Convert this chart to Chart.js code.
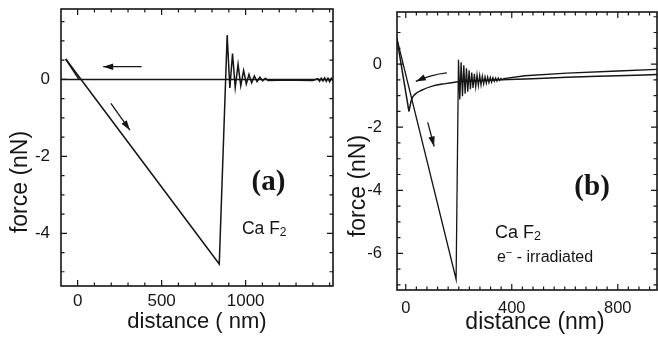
<!DOCTYPE html>
<html>
<head>
<meta charset="utf-8">
<script src="https://cdn.jsdelivr.net/npm/chart.js@4.4.1/dist/chart.umd.min.js"></script>
<style>
  html, body { margin: 0; padding: 0; background: #fff; }
  #wrap { position: relative; width: 658px; height: 339px; overflow: hidden; }
  canvas { position: absolute; top: 0; }
  #cv_a { left: 0; }
  #cv_b { left: 340px; }
</style>
</head>
<body>
<div id="wrap">
  <canvas id="cv_a" width="340" height="339"></canvas>
  <canvas id="cv_b" width="318" height="339"></canvas>
</div>
<script>
// ---- panel (a): CaF2 ----
const A_FLAT_X    = [1520, -99];
const A_FLAT_Y    = [0, 0];
const A_CONTACT_X = [8, -71];
const A_CONTACT_Y = [0, 0.53];
const A_RETRACT_X = [-71, 843, 890, 906, 922, 938, 955, 971, 988, 1004, 1020, 1036, 1052, 1068, 1085, 1101, 1117, 1133,
                     1200, 1300, 1400, 1430, 1440, 1450, 1460, 1470, 1480, 1490, 1500, 1510, 1520];
const A_RETRACT_Y = [0.53, -4.80, 1.15, -0.22, 0.67, -0.21, 0.39, -0.17, 0.23, -0.12, 0.13, -0.09, 0.09, -0.06, 0.06, -0.04, 0.03, -0.03,
                     -0.02, -0.02, -0.03, 0.02, -0.05, 0.03, -0.04, 0.04, -0.05, 0.03, -0.06, 0.03, -0.04];
const A_X_LABELS = [0, 500, 1000];
const A_Y_LABELS = [0, -2, -4];

// ---- panel (b): CaF2, e- irradiated ----
const B_APPROACH_X = [948, 800, 608, 450, 356, 275, 200, 150, 100, 60, 35, 22, 12];
const B_APPROACH_Y = [-0.33, -0.37, -0.42, -0.47, -0.50, -0.53, -0.56, -0.62, -0.70, -0.83, -0.96, -1.12, -1.50];
const B_CONTACT_X  = [12, -34];
const B_CONTACT_Y  = [-1.50, 0.83];
const B_RETRACT_X  = [-34, 190, 199, 204, 209, 214, 219, 224, 229, 234, 239, 244, 249, 254, 259, 264, 269, 274, 279, 284,
                      289, 294, 299, 304, 309, 314, 319, 324, 329, 334, 339, 344, 349, 354, 359, 364, 370, 450, 608, 800, 948];
const B_RETRACT_Y  = [0.83, -6.82, 0.14, -1.12, 0.06, -1.02, -0.04, -0.94, -0.13, -0.88, -0.20, -0.80, -0.27, -0.76, -0.31, -0.72, -0.34, -0.68, -0.36, -0.66,
                      -0.38, -0.63, -0.40, -0.61, -0.41, -0.59, -0.42, -0.57, -0.43, -0.55, -0.44, -0.54, -0.44, -0.52, -0.45, -0.50, -0.46, -0.37, -0.29, -0.22, -0.17];
const B_X_LABELS = [0, 400, 800];
const B_Y_LABELS = [0, -2, -4, -6];

const INK = '#151515';
const SANS = '"Liberation Sans", Arial, Helvetica, sans-serif';
const SERIF = '"Liberation Serif", "Times New Roman", serif';

function _xy(xs, ys) { return xs.map((x, i) => ({ x, y: ys[i] })); }
function _isOneOf(v, list) { return list.some(l => Math.abs(v - l) < 1e-6); }

// frame + inward ticks on all four sides
function frameTicks(xMajor, yMajor) {
  return {
    id: 'frameTicks',
    afterDatasetsDraw(chart) {
      const { ctx, chartArea: a } = chart;
      const sx = chart.scales.x, sy = chart.scales.y;
      ctx.save();
      ctx.strokeStyle = INK;
      ctx.lineWidth = 1.6;
      ctx.strokeRect(a.left, a.top, a.right - a.left, a.bottom - a.top);
      ctx.lineWidth = 1.2;
      ctx.beginPath();
      sx.ticks.forEach(t => {
        const p = sx.getPixelForValue(t.value);
        const len = _isOneOf(t.value, xMajor) ? 6 : 3.5;
        ctx.moveTo(p, a.bottom); ctx.lineTo(p, a.bottom - len);
        ctx.moveTo(p, a.top);    ctx.lineTo(p, a.top + len);
      });
      sy.ticks.forEach(t => {
        const p = sy.getPixelForValue(t.value);
        const len = _isOneOf(t.value, yMajor) ? 6 : 3.5;
        ctx.moveTo(a.left, p);  ctx.lineTo(a.left + len, p);
        ctx.moveTo(a.right, p); ctx.lineTo(a.right - len, p);
      });
      ctx.stroke();
      ctx.restore();
    },
  };
}

// axis titles, in-plot labels and arrows (kept in a closure, not in chart options)
function decor(cfg) {
  return {
    id: 'decor',
    afterDraw(chart) {
      const { ctx } = chart;
      const sx = chart.scales.x, sy = chart.scales.y;
      ctx.save();
      ctx.fillStyle = INK;
      ctx.strokeStyle = INK;

      cfg.titles.forEach(t => {
        ctx.save();
        ctx.translate(t.x, t.y);
        ctx.rotate(t.rot || 0);
        ctx.font = t.font;
        ctx.textAlign = 'center';
        ctx.textBaseline = 'middle';
        ctx.fillText(t.text, 0, 0);
        ctx.restore();
      });

      cfg.labels.forEach(l => {
        let x = sx.getPixelForValue(l.x);
        const y = sy.getPixelForValue(l.y);
        ctx.textAlign = 'left';
        ctx.textBaseline = 'middle';
        const fontOf = r => `${r.weight || 'normal'} ${r.size}px ${l.family}`;
        if (l.center) {
          let w = 0;
          l.runs.forEach(r => { ctx.font = fontOf(r); w += ctx.measureText(r.text).width; });
          x -= w / 2;
        }
        l.runs.forEach(r => {
          ctx.font = fontOf(r);
          ctx.fillText(r.text, x, y + (r.shift || 0));
          x += ctx.measureText(r.text).width;
        });
      });

      cfg.arrows.forEach(ar => {
        const p0 = [sx.getPixelForValue(ar.from[0]), sy.getPixelForValue(ar.from[1])];
        const p1 = [sx.getPixelForValue(ar.to[0]), sy.getPixelForValue(ar.to[1])];
        const pc = ar.via ? [sx.getPixelForValue(ar.via[0]), sy.getPixelForValue(ar.via[1])] : null;
        ctx.lineWidth = 1.3;
        ctx.beginPath();
        ctx.moveTo(p0[0], p0[1]);
        if (pc) ctx.quadraticCurveTo(pc[0], pc[1], p1[0], p1[1]);
        else ctx.lineTo(p1[0], p1[1]);
        ctx.stroke();
        const base = pc || p0;
        const ang = Math.atan2(p1[1] - base[1], p1[0] - base[0]);
        const L = 10, W = 3.2;
        ctx.beginPath();
        ctx.moveTo(p1[0], p1[1]);
        ctx.lineTo(p1[0] - L * Math.cos(ang) + W * Math.sin(ang), p1[1] - L * Math.sin(ang) - W * Math.cos(ang));
        ctx.lineTo(p1[0] - L * Math.cos(ang) - W * Math.sin(ang), p1[1] - L * Math.sin(ang) + W * Math.cos(ang));
        ctx.closePath();
        ctx.fill();
      });
      ctx.restore();
    },
  };
}

function _line(data, extra) {
  return Object.assign({ data, showLine: true, borderColor: INK, borderWidth: 1.5, pointRadius: 0, tension: 0 }, extra || {});
}

function panelOptions(p) {
  return {
    responsive: false,
    animation: false,
    devicePixelRatio: 1,
    layout: { padding: p.pad },
    plugins: { legend: { display: false }, tooltip: { enabled: false } },
    scales: {
      x: {
        type: 'linear', min: p.xMin, max: p.xMax,
        grid: { display: false, drawTicks: false }, border: { display: false },
        ticks: {
          stepSize: p.xStep, autoSkip: false, maxRotation: 0, includeBounds: false,
          padding: p.xPad, color: INK, font: { family: SANS, size: p.tickSize },
          callback: v => (_isOneOf(v, p.xLabels) ? String(Math.round(v)) : ''),
        },
        afterFit: s => { s.height = p.xHeight; s.paddingLeft = 0; s.paddingRight = 0; },
      },
      y: {
        type: 'linear', min: p.yMin, max: p.yMax,
        grid: { display: false, drawTicks: false }, border: { display: false },
        ticks: {
          stepSize: 0.5, autoSkip: false, includeBounds: false,
          padding: p.yPad, color: INK, font: { family: SANS, size: p.tickSize },
          callback: v => (_isOneOf(v, p.yLabels) ? String(Math.round(v)) : ''),
        },
        afterFit: s => { s.width = p.yWidth; s.paddingTop = 0; s.paddingBottom = 0; },
      },
    },
  };
}

new Chart(document.getElementById('cv_a'), {
  type: 'scatter',
  data: { datasets: [
    _line(_xy(A_FLAT_X, A_FLAT_Y)),
    _line(_xy(A_CONTACT_X, A_CONTACT_Y)),
    _line(_xy(A_RETRACT_X, A_RETRACT_Y)),
  ]},
  options: panelOptions({
    pad: { left: 0, top: 9, right: 7, bottom: 0 },
    xMin: -99, xMax: 1520, xStep: 100, xLabels: A_X_LABELS, xHeight: 53, xPad: 5,
    yMin: -5.37, yMax: 1.83, yLabels: A_Y_LABELS, yWidth: 61, yPad: 11,
    tickSize: 17,
  }),
  plugins: [
    frameTicks(A_X_LABELS, A_Y_LABELS),
    decor({
      titles: [
        { text: 'force (nN)', x: 21, y: 182, rot: -Math.PI / 2, font: `23px ${SANS}` },
        { text: 'distance ( nm)', x: 197, y: 322, font: `22px ${SANS}` },
      ],
      labels: [
        { x: 1136, y: -2.67, center: true, family: SERIF, runs: [{ text: '(a)', size: 29, weight: 'bold' }] },
        { x: 978, y: -3.89, family: SANS, runs: [{ text: 'Ca F', size: 17.5 }, { text: '2', size: 12, shift: 4 }] },
      ],
      arrows: [
        { from: [381, 0.33], to: [152, 0.33] },
        { from: [198, -0.62], to: [311, -1.32] },
      ],
    }),
  ],
});

new Chart(document.getElementById('cv_b'), {
  type: 'scatter',
  data: { datasets: [
    _line(_xy(B_APPROACH_X, B_APPROACH_Y), { cubicInterpolationMode: 'monotone' }),
    _line(_xy(B_CONTACT_X, B_CONTACT_Y)),
    _line(_xy(B_RETRACT_X, B_RETRACT_Y), { borderWidth: 1.3 }),
  ]},
  options: panelOptions({
    pad: { left: 0, top: 12, right: 1, bottom: 0 },
    xMin: -33, xMax: 948, xStep: 40, xLabels: B_X_LABELS, xHeight: 49, xPad: 9,
    yMin: -7.16, yMax: 1.65, yLabels: B_Y_LABELS, yWidth: 57, yPad: 15,
    tickSize: 16.5,
  }),
  plugins: [
    frameTicks(B_X_LABELS, B_Y_LABELS),
    decor({
      titles: [
        { text: 'force (nN)', x: 19, y: 186, rot: -Math.PI / 2, font: `23px ${SANS}` },
        { text: 'distance (nm)', x: 195, y: 323, font: `23px ${SANS}` },
      ],
      labels: [
        { x: 703, y: -3.90, center: true, family: SERIF, runs: [{ text: '(b)', size: 29, weight: 'bold' }] },
        { x: 337, y: -5.35, family: SANS, runs: [{ text: 'Ca F', size: 18 }, { text: '2', size: 12.5, shift: 4 }] },
        { x: 344, y: -6.13, family: SANS, runs: [{ text: 'e', size: 16 }, { text: '\u2212', size: 11, shift: -5 }, { text: ' - irradiated', size: 16 }] },
      ],
      arrows: [
        { from: [155, -0.28], via: [96, -0.33], to: [38, -0.55] },
        { from: [83, -1.85], to: [107, -2.61] },
      ],
    }),
  ],
});
</script>
</body>
</html>
